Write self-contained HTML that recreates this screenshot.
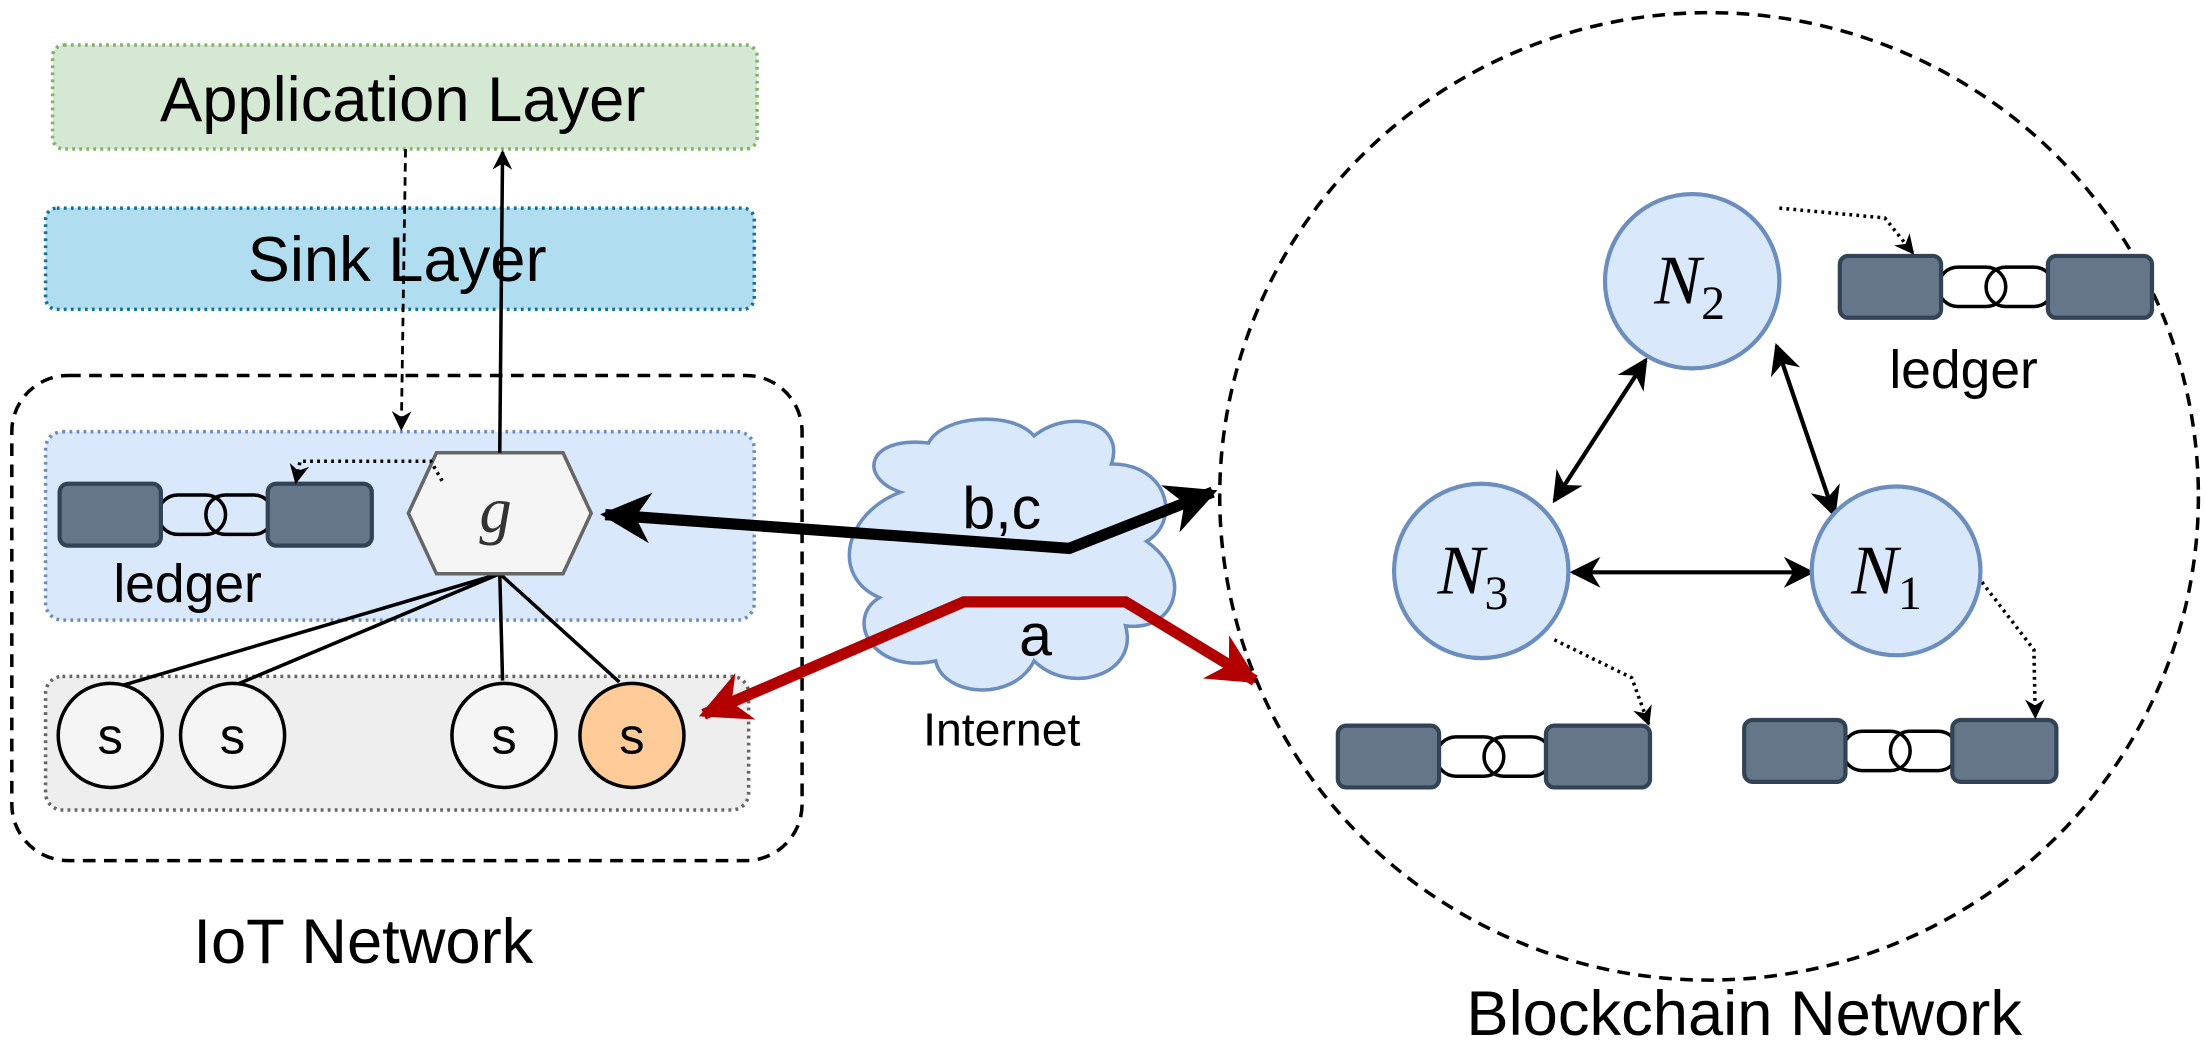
<!DOCTYPE html>
<html><head><meta charset="utf-8"><style>html,body{margin:0;padding:0;background:#fff}svg{display:block}</style></head>
<body>
<svg width="2206" height="1049" viewBox="0 0 1568 746" xmlns="http://www.w3.org/2000/svg" font-family="Liberation Sans, sans-serif">
<defs>
<marker id="am" viewBox="0 0 10 10" refX="9" refY="5" markerWidth="14" markerHeight="14" orient="auto-start-reverse" markerUnits="userSpaceOnUse"><path d="M0,0 L10,5 L0,10 L3,5 z" fill="#000"/></marker>
<marker id="an" viewBox="0 0 10 10" refX="9" refY="5" markerWidth="22" markerHeight="22" orient="auto-start-reverse" markerUnits="userSpaceOnUse"><path d="M0,0 L10,5 L0,10 L3,5 z" fill="#000"/></marker>
<marker id="ak" viewBox="0 0 10 10" refX="9" refY="5" markerWidth="36" markerHeight="36" orient="auto-start-reverse" markerUnits="userSpaceOnUse"><path d="M0,0 L10,5 L0,10 L3,5 z" fill="#000"/></marker>
<marker id="ar" viewBox="0 0 10 10" refX="9" refY="5" markerWidth="36" markerHeight="36" orient="auto-start-reverse" markerUnits="userSpaceOnUse"><path d="M0,0 L10,5 L0,10 L3,5 z" fill="#b20000"/></marker>
<g id="chain">
<path d="M84,8 h20 a14,14 0 0 1 0,28 h-20 a14,14 0 0 1 0,-28 z" fill="none" stroke="#000" stroke-width="2.5"/>
<path d="M118,8 h20 a14,14 0 0 1 0,28 h-20 a14,14 0 0 1 0,-28 z" fill="none" stroke="#000" stroke-width="2.5"/>
<rect x="0" y="0" width="72" height="44" rx="6" fill="#647687" stroke="#314354" stroke-width="3"/>
<rect x="148" y="0" width="74" height="44" rx="6" fill="#647687" stroke="#314354" stroke-width="3"/>
</g>
</defs>
<rect x="37" y="32" width="501" height="74" rx="8" fill="#d5e8d4" stroke="#82b366" stroke-width="2.5" stroke-dasharray="2,3"/>
<text x="286" y="86" font-size="45" text-anchor="middle">Application Layer</text>
<rect x="32" y="148" width="504" height="72" rx="8" fill="#b1ddf0" stroke="#10739e" stroke-width="2.5" stroke-dasharray="2,3"/>
<text x="282" y="200" font-size="45" text-anchor="middle">Sink Layer</text>
<rect x="8" y="267" width="562" height="345" rx="40" fill="none" stroke="#000" stroke-width="2.5" stroke-dasharray="9,6"/>
<rect x="32" y="307" width="504" height="134" rx="12" fill="#dae8fc" stroke="#6c8ebf" stroke-width="2.5" stroke-dasharray="2,3"/>
<rect x="32" y="481" width="500" height="95" rx="12" fill="#eeeeee" stroke="#666" stroke-width="2.5" stroke-dasharray="2,3"/>
<use href="#chain" x="42" y="344"/>
<text x="133" y="428" font-size="38" text-anchor="middle">ledger</text>
<g stroke="#000" stroke-width="2.5"><line x1="355" y1="408" x2="78" y2="490"/><line x1="355" y1="408" x2="165" y2="488"/><line x1="355" y1="408" x2="357" y2="484"/><line x1="355" y1="408" x2="440" y2="485"/></g>
<circle cx="78" cy="523" r="37" fill="#f5f5f5" stroke="#000" stroke-width="2.5"/>
<circle cx="165" cy="523" r="37" fill="#f5f5f5" stroke="#000" stroke-width="2.5"/>
<circle cx="358" cy="523" r="37" fill="#f5f5f5" stroke="#000" stroke-width="2.5"/>
<circle cx="449" cy="523" r="37" fill="#ffcc99" stroke="#000" stroke-width="2.5"/>
<g font-size="36" text-anchor="middle"><text x="78" y="536">s</text><text x="165" y="536">s</text><text x="358" y="536">s</text><text x="449" y="536">s</text></g>
<polygon points="310,322 400,322 420,365 400,408 310,408 290,365" fill="#f5f5f5" stroke="#666" stroke-width="2.5"/>
<text x="352" y="378" font-size="46" font-style="italic" font-family="Liberation Serif, serif" text-anchor="middle" fill="#333">g</text>
<line x1="355" y1="322" x2="357" y2="108" stroke="#000" stroke-width="2.5" marker-end="url(#am)"/>
<line x1="288" y1="106" x2="285" y2="305" stroke="#000" stroke-width="2" stroke-dasharray="6,4" marker-end="url(#am)"/>
<path d="M314,342 L306,328 L213,328 L210,343" fill="none" stroke="#000" stroke-width="2.5" stroke-dasharray="2,3" marker-end="url(#am)"/>
<path d="M640,350 C610,340 615,310 660,315 C670,295 720,292 735,310 C760,290 800,300 790,330 C830,330 840,370 815,385 C850,410 835,450 800,445 C810,480 760,495 735,470 C720,500 670,495 665,470 C620,480 600,440 625,425 C590,410 600,365 640,350 Z" fill="#dae8fc" stroke="#6c8ebf" stroke-width="2.5"/>
<text x="712" y="376" font-size="42" text-anchor="middle">b,c</text>
<text x="736" y="466" font-size="42" text-anchor="middle">a</text>
<text x="712" y="530" font-size="33" text-anchor="middle">Internet</text>
<path d="M430,366 L760,390 L862,350" fill="none" stroke="#000" stroke-width="8" marker-start="url(#ak)" marker-end="url(#ak)"/>
<path d="M500,508 L685,428 L800,428 L892,484" fill="none" stroke="#b20000" stroke-width="8" marker-start="url(#ar)" marker-end="url(#ar)"/>
<text x="258" y="685" font-size="45" text-anchor="middle">IoT Network</text>
<ellipse cx="1215" cy="353" rx="348" ry="344" fill="none" stroke="#000" stroke-width="2.5" stroke-dasharray="9,6"/>
<text x="1240" y="736" font-size="45" text-anchor="middle">Blockchain Network</text>
<use href="#chain" x="1308" y="182"/>
<text x="1396" y="276" font-size="38" text-anchor="middle">ledger</text>
<use href="#chain" x="951" y="516"/>
<use href="#chain" x="1240" y="512"/>
<path d="M1265,148 L1340,155 L1360,180" fill="none" stroke="#000" stroke-width="2.5" stroke-dasharray="2,3" marker-end="url(#am)"/>
<path d="M1105,455 L1160,482 L1172,515" fill="none" stroke="#000" stroke-width="2.5" stroke-dasharray="2,3" marker-end="url(#am)"/>
<path d="M1406,410 L1446,462 L1447,510" fill="none" stroke="#000" stroke-width="2.5" stroke-dasharray="2,3" marker-end="url(#am)"/>
<g stroke="#000" stroke-width="3">
<line x1="1170" y1="256" x2="1105" y2="356" marker-start="url(#an)" marker-end="url(#an)"/>
<line x1="1263" y1="246" x2="1304" y2="366" marker-start="url(#an)" marker-end="url(#an)"/>
<line x1="1118" y1="407" x2="1288" y2="407" marker-start="url(#an)" marker-end="url(#an)"/>
</g>
<circle cx="1203" cy="200" r="62" fill="#dae8fc" stroke="#6c8ebf" stroke-width="3"/>
<circle cx="1053" cy="406" r="62" fill="#dae8fc" stroke="#6c8ebf" stroke-width="3"/>
<circle cx="1348" cy="406" r="60" fill="#dae8fc" stroke="#6c8ebf" stroke-width="3"/>
<g font-family="Liberation Serif, serif" font-style="italic" font-size="50">
<text x="1176" y="216">N<tspan font-style="normal" font-size="34" dy="11">2</tspan></text>
<text x="1022" y="422">N<tspan font-style="normal" font-size="34" dy="11">3</tspan></text>
<text x="1316" y="422">N<tspan font-style="normal" font-size="34" dy="11">1</tspan></text>
</g>
</svg>
</body></html>
